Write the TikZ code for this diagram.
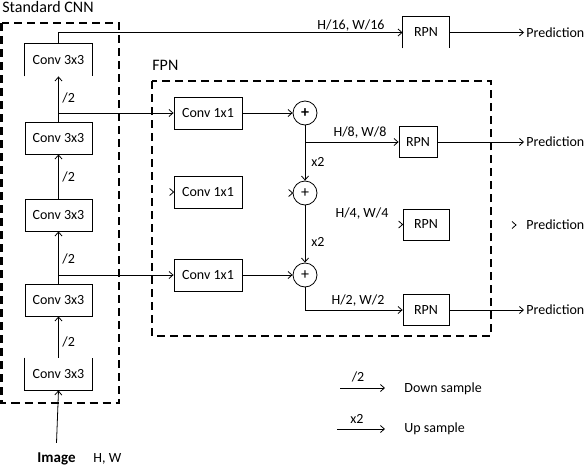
\documentclass[tikz,border=0pt]{standalone}
\usepackage{fontspec}
\setmainfont{Carlito}
\usetikzlibrary{arrows.meta}
\newcommand\tipat[1]{\draw (#1) ++(-4,-3.5) -- (#1) -- ++(-4,3.5);}
\begin{document}
\begin{tikzpicture}[x=1pt,y=-1pt,
  font=\fontsize{14}{16}\selectfont,
  line width=0.8pt,
  arr/.style={-{Straight Barb[length=4pt,width=7pt]}},
  convbox/.style={minimum width=67pt,minimum height=32pt,inner sep=0pt},
  onebox/.style={minimum width=68pt,minimum height=32pt,inner sep=0pt,draw},
  rpnbox/.style={minimum width=46pt,minimum height=31pt,inner sep=0pt},
  plus/.style={circle,draw,minimum size=24pt,inner sep=0pt,font=\fontsize{16}{16}\selectfont},
  lbl/.style={inner sep=0pt},
  head/.style={font=\fontsize{16}{18}\selectfont,anchor=base west,inner sep=0pt},
  pred/.style={anchor=west,inner sep=2pt},
  dbox/.style={dash pattern=on 8pt off 5pt}
]
\useasboundingbox (0,0) rectangle (588,466);

% dashed frames
\draw[dbox,line width=2.2pt] (1.5,23) rectangle (119,403);
\draw[dbox,line width=1.8pt] (152,81) rectangle (491,336);
\node[head] (t1) at (2,12.5) {Standard CNN};
\node[head] (t2) at (152,70) {FPN};

% standard CNN
\node[convbox] (c1) at (58.5,60) {Conv 3x3};
\node[convbox,draw] (c2) at (58.5,138) {Conv 3x3};
\node[convbox,draw] (c3) at (58.5,215) {Conv 3x3};
\node[convbox,draw] (c4) at (58.5,300) {Conv 3x3};
\node[convbox] (c5) at (58.5,374) {Conv 3x3};
\draw (c1.south west) -- (c1.north west) -- (c1.north east) -- (c1.south east);
\draw (c5.north west) -- (c5.south west) -- (c5.south east) -- (c5.north east);

\draw[arr] (c2.north) -- (c1.south);
\draw[arr] (c3.north) -- (c2.south);
\draw[arr] (c4.north) -- (c3.south);
\draw[arr] (c5.north) -- (c4.south);
\node[lbl,anchor=west] (s1) at (62,98) {/2};
\node[lbl,anchor=west] (s2) at (62,177) {/2};
\node[lbl,anchor=west] (s3) at (62,259) {/2};
\node[lbl,anchor=west] (s4) at (62,342) {/2};

\node[font=\fontsize{15}{17}\selectfont\bfseries,anchor=base,inner xsep=0pt,inner ysep=9pt] (img) at (56.5,462) {Image};
\node[lbl,anchor=base west] (hw) at (93,462) {H, W};
\draw[arr] (img.north) -- (c5.south);

% FPN
\node[onebox] (m1) at (208,113) {Conv 1x1};
\node[onebox] (m2) at (208,192) {Conv 1x1};
\node[onebox] (m3) at (208,275) {Conv 1x1};
\node[plus] (p1) at (305,113) {\textbf{+}};
\node[plus] (p2) at (305,193) {+};
\node[plus] (p3) at (305,275) {+};

\coordinate (b1) at (58.5,113);
\coordinate (b2) at (58.5,275);
\draw[arr] (b1) -- (m1.west);
\draw[arr] (b2) -- (m3.west);
\draw[arr] (m1.east) -- (p1.west);
\draw[arr] (m3.east) -- (p3.west);
\tipat{m2.west}
\tipat{p2.west}
\draw[arr] (p1.south) -- (p2.north);
\draw[arr] (p2.south) -- (p3.north);
\node[lbl,anchor=west] (x1) at (311,162) {x2};
\node[lbl,anchor=west] (x2) at (311,242) {x2};

% RPNs
\node[rpnbox] (r1) at (426,32.5) {RPN};
\draw (r1.south west) -- (r1.north west) -- (r1.north east) -- (r1.south east);
\node[rpnbox,draw,minimum width=38pt] (r2) at (418,142) {RPN};
\node[rpnbox,draw] (r3) at (426,224.5) {RPN};
\node[rpnbox,draw] (r4) at (426,310) {RPN};

\draw[arr] (c1.north) |- (r1.west);
\node[lbl,anchor=base] (l1) at (351,29) {H/16, W/16};
\coordinate (q1) at (305,142);
\draw[arr] (q1) -- (r2.west);
\node[lbl,anchor=base] (l2) at (360,136) {H/8, W/8};
\tipat{r3.west}
\node[lbl,anchor=base] (l3) at (362,217) {H/4, W/4};
\draw[arr] (p3.south) |- (r4.west);
\node[lbl,anchor=base] (l4) at (358,304) {H/2, W/2};

% predictions
\node[pred] (o1) at (524,32.5) {Prediction};
\node[pred] (o2) at (524,142) {Prediction};
\node[pred] (o3) at (524,225) {Prediction};
\node[pred] (o4) at (524,310) {Prediction};
\draw[arr] (r1.east) -- (o1.west);
\draw[arr] (r2.east) -- (o2.west);
\coordinate (t3) at (516,225);
\tipat{t3}
\draw[arr] (r4.east) -- (o4.west);

% legend
\coordinate (d1) at (340,388);
\coordinate (d2) at (385,388);
\draw[arr] (d1) -- (d2);
\node[lbl] (dl) at (358,377) {/2};
\node[lbl,anchor=west] (dt) at (404,389) {Down sample};
\coordinate (u1) at (337,429);
\coordinate (u2) at (385,429);
\draw[arr] (u1) -- (u2);
\node[lbl] (ul) at (357,419) {x2};
\node[lbl,anchor=west] (ut) at (404,429) {Up sample};
\end{tikzpicture}
\end{document}
